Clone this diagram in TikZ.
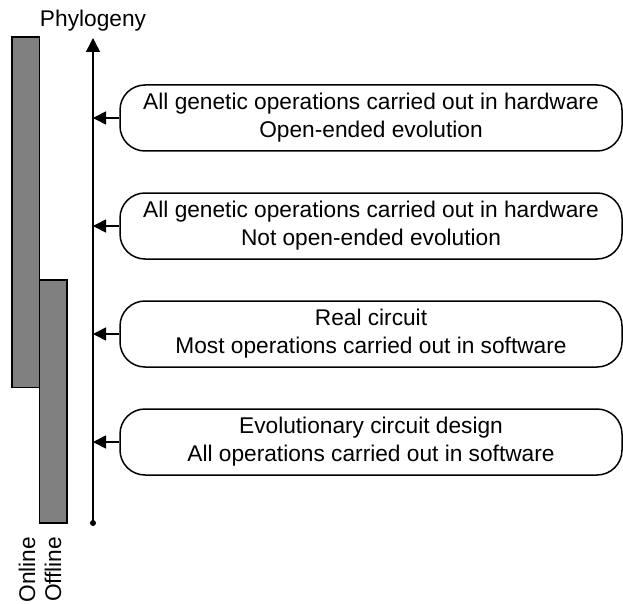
\documentclass[tikz,border=0pt]{standalone}
\usepackage{fontspec}
\setmainfont{Liberation Sans}
\usetikzlibrary{positioning}
\usetikzlibrary{arrows.meta}
\definecolor{bargray}{RGB}{128,128,128}

\begin{document}
\begin{tikzpicture}[x=1pt,y=-1pt,line width=1.5pt,node distance=40.5pt,
  font=\fontsize{22.7}{28}\selectfont,
  stage/.style={draw,rounded corners=25pt,minimum width=502pt,minimum height=66pt,align=center,inner sep=0pt},
  bar/.style={draw,fill=bargray},
  link/.style={-{Triangle[length=13pt,width=13pt]}}]
\useasboundingbox (0,0) rectangle (623,604);

\node[stage]   (S1) at (371,118)  {All genetic operations carried out in hardware\\Open-ended evolution};
\node[stage]   (S2) [below=of S1] {All genetic operations carried out in hardware\\Not open-ended evolution};
\node[stage]   (S3) [below=of S2] {Real circuit\\Most operations carried out in software};
\node[stage]   (S4) [below=of S3] {Evolutionary circuit design\\All operations carried out in software};

\coordinate (top)    at (93,38);
\coordinate (bottom) at (93,523);
\draw[-{Triangle[length=14pt,width=14pt]}] (bottom) -- (top);
\fill (bottom) circle (3pt);
\node (phylo) [anchor=base] at (93,26.5) {Phylogeny};

\path (S1.west) edge [link] (S1.west -| top)
      (S2.west) edge [link] (S2.west -| top)
      (S3.west) edge [link] (S3.west -| top)
      (S4.west) edge [link] (S4.west -| top);

\draw[bar] (12,37) rectangle (39.5,387.5);
\draw[bar] (39.5,280) rectangle (67,523);
\node (online)  [rotate=90,anchor=east,inner sep=0pt] at (27,536) {Online};
\node (offline) [rotate=90,anchor=east,inner sep=0pt] at (53,536) {Offline};

\end{tikzpicture}
\end{document}
